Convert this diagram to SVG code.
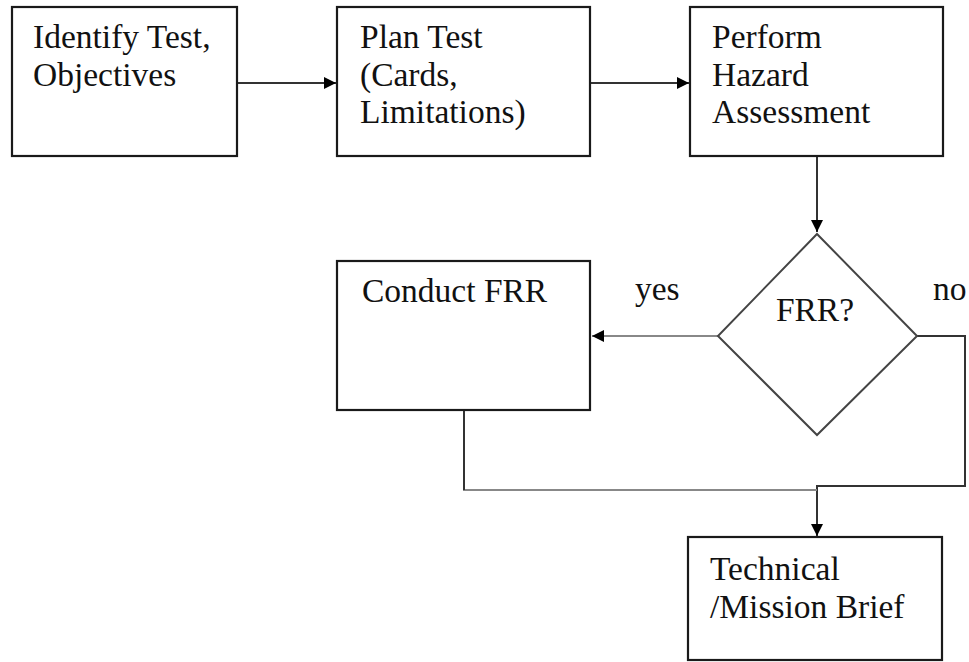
<svg xmlns="http://www.w3.org/2000/svg" width="969" height="662" viewBox="0 0 969 662">
<style>
.box{fill:#fff;stroke:#1a1a1a;stroke-width:2.2}
.dia{fill:#fff;stroke:#444;stroke-width:2}
.t{font-family:'Liberation Serif','DejaVu Serif',serif;font-size:33.5px;fill:#111}
.c{fill:none;stroke:#333;stroke-width:2}
.cl{fill:none;stroke:#888;stroke-width:2}
</style>
<defs>
<marker id="ah" viewBox="0 0 10 10" refX="10" refY="5" markerWidth="12" markerHeight="12" markerUnits="userSpaceOnUse" orient="auto">
<path d="M0,0 L10,5 L0,10 Z" fill="#000"/>
</marker>
</defs>
<rect width="969" height="662" fill="#fff"/>
<g id="connectors">
<path class="c" d="M237,83 H336" marker-end="url(#ah)"/>
<path class="c" d="M590,83 H689" marker-end="url(#ah)"/>
<path class="c" d="M817,156 V232" marker-end="url(#ah)"/>
<path class="cl" d="M718,336 H592" marker-end="url(#ah)"/>
<path class="c" d="M917,336 H965 V486 H817 V536" marker-end="url(#ah)"/>
<path class="cl" d="M464,410 V490 H817"/>
<path class="c" d="M464,410 V490"/>
</g>
<g id="n1">
<rect class="box" x="12" y="7" width="225" height="149"/>
<text class="t" x="33" y="48">Identify Test,</text>
<text class="t" x="33" y="86">Objectives</text>
</g>
<g id="n2">
<rect class="box" x="337" y="7" width="253" height="149"/>
<text class="t" x="360" y="48">Plan Test</text>
<text class="t" x="360" y="86">(Cards,</text>
<text class="t" x="360" y="123">Limitations)</text>
</g>
<g id="n3">
<rect class="box" x="690" y="7" width="253" height="149"/>
<text class="t" x="712" y="48">Perform</text>
<text class="t" x="712" y="86">Hazard</text>
<text class="t" x="712" y="123">Assessment</text>
</g>
<g id="n4">
<polygon class="dia" points="817,234 917,336 817,435 718,336"/>
<text class="t" x="815" y="321" text-anchor="middle">FRR?</text>
</g>
<g id="n5">
<rect class="box" x="337" y="261" width="253" height="149"/>
<text class="t" x="362" y="302">Conduct FRR</text>
</g>
<g id="n6">
<rect class="box" x="688" y="537" width="254" height="123"/>
<text class="t" x="710" y="580">Technical</text>
<text class="t" x="710" y="618">/Mission Brief</text>
</g>
<g id="labels">
<text class="t" x="635" y="300">yes</text>
<text class="t" x="933" y="300">no</text>
</g>
</svg>
